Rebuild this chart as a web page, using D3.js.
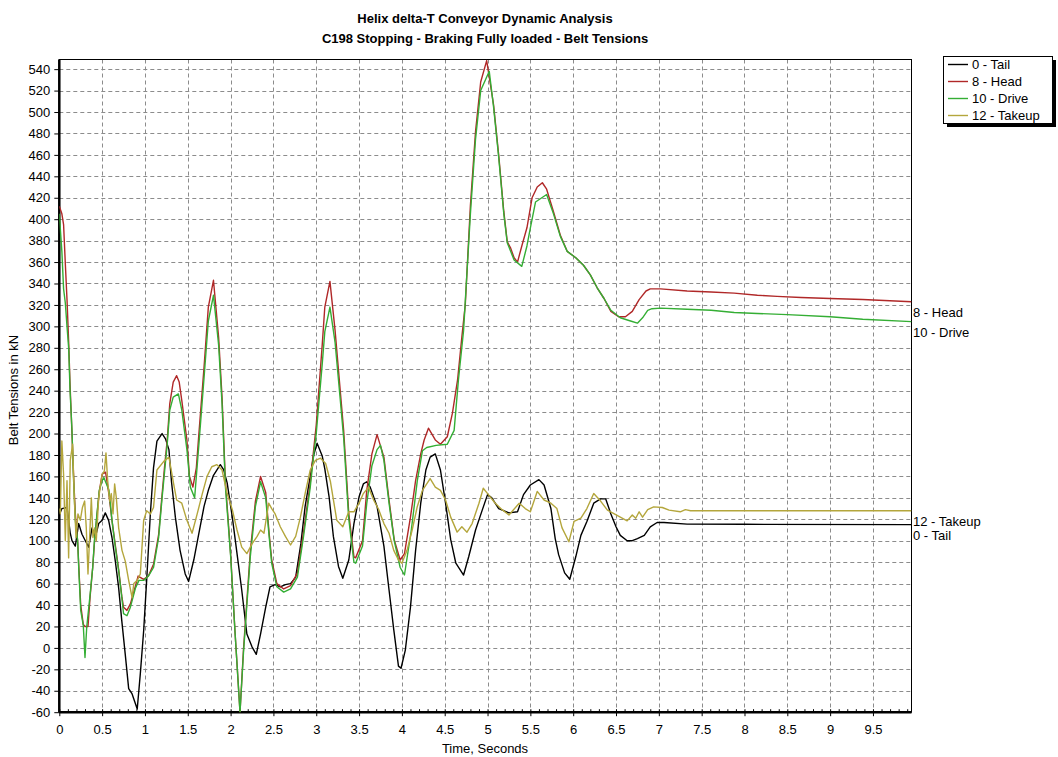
<!DOCTYPE html>
<html>
<head>
<meta charset="utf-8">
<script src="https://cdn.jsdelivr.net/npm/d3@7"></script>
<style>
  html, body { margin: 0; padding: 0; background: #fff; }
  svg { display: block; font-family: "Liberation Sans", Arial, sans-serif; }
</style>
</head>
<body>
<svg id="chart" width="1058" height="757"></svg>
<script>
// Belt tension histories (time in s, tension in kN) for each pulley location
const tail = [
  [0,124],[0.03,130],[0.09,131],[0.128,107],[0.148,100],[0.187,95],[0.226,116],[0.265,106],
  [0.304,100],[0.343,94],[0.382,112],[0.42,103],[0.46,116],[0.5,119],[0.537,126],[0.576,119],
  [0.615,103],[0.654,81],[0.693,56],[0.73,25],[0.77,-6],[0.81,-38],[0.85,-43],[0.91,-57],
  [0.946,-24],[0.985,16],[1.02,63],[1.063,125],[1.10,168],[1.14,193],[1.20,200],[1.24,195],
  [1.28,185],[1.31,155],[1.355,122],[1.41,91],[1.47,69],[1.51,62],[1.57,82],[1.63,107],
  [1.69,132],[1.74,147],[1.80,161],[1.88,171],[1.92,166],[1.96,154],[2.02,122],[2.08,85],
  [2.13,54],[2.19,13],[2.25,1],[2.30,-6],[2.35,13],[2.41,38],[2.46,57],[2.52,59],[2.58,57],
  [2.64,59],[2.70,60],[2.76,66],[2.82,97],[2.87,132],[2.93,160],[2.97,180],[3.01,191],
  [3.07,179],[3.10,167],[3.15,141],[3.20,104],[3.26,76],[3.31,65],[3.38,82],[3.44,116],
  [3.50,141],[3.55,153],[3.59,155],[3.63,150],[3.71,132],[3.79,95],[3.85,54],[3.905,17],
  [3.96,-17],[3.99,-19],[4.04,-2],[4.10,38],[4.16,91],[4.22,135],[4.28,166],[4.33,178],
  [4.39,181],[4.45,166],[4.51,135],[4.57,101],[4.63,79],[4.72,68],[4.78,85],[4.86,110],
  [4.94,129],[5.0,143],[5.05,140],[5.13,130],[5.25,126],[5.35,127],[5.42,143],[5.50,152],
  [5.60,157],[5.66,152],[5.74,130],[5.79,102],[5.83,87],[5.90,70],[5.96,64],[6.03,85],
  [6.09,105],[6.16,118],[6.24,135],[6.32,139],[6.38,139],[6.44,125],[6.50,113],[6.55,105],
  [6.63,100],[6.69,100],[6.75,102],[6.83,105],[6.90,113],[6.98,117],[7.06,117],[7.33,115.5],
  [8.0,115.3],[9.95,115]
];

const head = [
  [0,412],[0.03,405],[0.05,395],[0.07,359],[0.09,325],[0.11,284],[0.125,247],[0.148,200],
  [0.167,160],[0.187,125],[0.20,112],[0.214,100],[0.23,72],[0.25,40],[0.28,22],[0.30,20],
  [0.335,20],[0.36,48],[0.39,75],[0.41,98],[0.44,124],[0.467,146],[0.5,162],[0.54,164],
  [0.58,143],[0.615,119],[0.654,96],[0.693,73],[0.73,48],[0.75,38],[0.79,35],[0.83,41],
  [0.89,58],[0.92,67],[0.985,64],[1.04,67],[1.10,78],[1.16,106],[1.20,143],[1.23,170],
  [1.26,194],[1.29,228],[1.33,248],[1.37,254],[1.40,248],[1.43,231],[1.49,194],[1.52,160],
  [1.56,150],[1.60,168],[1.63,200],[1.69,262],[1.74,318],[1.80,343],[1.86,290],[1.90,234],
  [1.94,154],[2.0,88],[2.05,17],[2.11,-60],[2.15,-2],[2.23,90],[2.29,137],[2.35,160],
  [2.41,145],[2.45,107],[2.48,82],[2.54,60],[2.62,55],[2.70,58],[2.78,70],[2.85,107],
  [2.93,154],[2.97,185],[3.0,208],[3.07,283],[3.10,318],[3.16,342],[3.22,296],[3.28,240],
  [3.32,203],[3.38,125],[3.44,85],[3.46,84],[3.54,100],[3.59,147],[3.65,181],[3.71,199],
  [3.79,178],[3.85,138],[3.91,101],[3.98,82],[4.03,88],[4.10,122],[4.16,156],[4.22,181],
  [4.26,194],[4.31,205],[4.39,194],[4.45,190],[4.53,197],[4.59,219],[4.65,250],[4.70,290],
  [4.74,320],[4.80,413],[4.86,482],[4.92,528],[4.99,548],[5.07,507],[5.13,460],[5.19,407],
  [5.23,379],[5.27,373],[5.31,364],[5.35,360],[5.40,375],[5.46,392],[5.52,420],[5.58,430],
  [5.64,434],[5.69,428],[5.77,407],[5.85,385],[5.93,370],[6.03,364],[6.12,357],[6.20,348],
  [6.28,336],[6.36,326],[6.44,314],[6.53,309],[6.61,309],[6.69,314],[6.77,325],[6.85,333],
  [6.90,335],[7.02,335],[7.33,333],[7.61,332],[7.88,331],[8.15,329],[8.38,328],[8.66,327],
  [9.0,326],[9.38,325],[9.95,323]
];

const drive = [
  [0,405],[0.03,370],[0.05,335],[0.07,322],[0.09,300],[0.11,279],[0.125,241],[0.148,203],
  [0.167,156],[0.187,119],[0.214,100],[0.23,69],[0.25,35],[0.28,21],[0.30,-9],[0.32,19],
  [0.36,50],[0.39,75],[0.41,100],[0.44,125],[0.467,147],[0.5,156],[0.52,159],[0.58,147],
  [0.615,119],[0.654,94],[0.693,72],[0.73,47],[0.75,32],[0.79,30],[0.83,38],[0.89,56],
  [0.93,63],[0.985,63],[1.04,67],[1.10,75],[1.16,103],[1.20,140],[1.23,165],[1.26,190],
  [1.29,222],[1.33,234],[1.39,237],[1.43,222],[1.49,185],[1.53,150],[1.58,140],[1.63,190],
  [1.69,252],[1.74,305],[1.80,329],[1.86,283],[1.90,228],[1.94,150],[2.0,86],[2.05,17],
  [2.11,-60],[2.15,-5],[2.23,85],[2.29,132],[2.35,155],[2.41,140],[2.45,104],[2.48,79],
  [2.54,57],[2.62,52],[2.70,55],[2.78,66],[2.85,103],[2.93,150],[2.97,180],[3.0,200],
  [3.07,265],[3.10,295],[3.16,318],[3.22,285],[3.28,232],[3.32,196],[3.38,120],[3.44,80],
  [3.46,79],[3.54,95],[3.59,135],[3.65,170],[3.71,185],[3.75,189],[3.79,175],[3.85,135],
  [3.91,100],[3.98,75],[4.03,68],[4.11,110],[4.18,156],[4.24,184],[4.29,187],[4.40,189],
  [4.53,190],[4.61,203],[4.66,250],[4.72,296],[4.80,405],[4.86,475],[4.92,520],[5.02,538],
  [5.07,505],[5.13,458],[5.19,405],[5.23,378],[5.31,362],[5.40,356],[5.46,375],[5.50,392],
  [5.56,416],[5.69,423],[5.77,405],[5.85,384],[5.93,370],[6.03,364],[6.12,357],[6.20,348],
  [6.28,336],[6.36,326],[6.44,315],[6.55,308],[6.67,305],[6.75,303],[6.81,308],[6.87,315],
  [6.92,316.5],[7.02,317],[7.33,316],[7.61,315],[7.88,313],[8.15,312],[8.50,311],[9.0,309],
  [9.38,306.6],[9.95,304.4]
];

const takeup = [
  [0,130],[0.012,125],[0.03,193],[0.05,162],[0.07,100],[0.09,156],[0.109,84],[0.128,175],
  [0.155,190],[0.175,140],[0.195,103],[0.218,125],[0.245,119],[0.27,131],[0.296,137],
  [0.315,112],[0.335,69],[0.354,103],[0.374,140],[0.393,103],[0.413,112],[0.432,100],
  [0.46,140],[0.5,162],[0.526,165],[0.545,182],[0.565,156],[0.588,137],[0.607,144],
  [0.627,125],[0.646,153],[0.666,140],[0.693,112],[0.732,91],[0.77,81],[0.81,63],[0.85,47],
  [0.87,60],[0.91,63],[0.946,69],[0.985,119],[1.02,128],[1.063,125],[1.10,131],[1.14,166],
  [1.22,174],[1.28,178],[1.335,153],[1.37,138],[1.43,135],[1.49,119],[1.55,107],[1.61,125],
  [1.67,144],[1.725,160],[1.78,169],[1.84,171],[1.90,166],[1.96,144],[2.02,129],[2.075,110],
  [2.13,94],[2.19,88],[2.25,97],[2.31,104],[2.35,110],[2.39,107],[2.445,135],[2.48,130],
  [2.52,125],[2.58,113],[2.64,104],[2.70,96],[2.76,104],[2.815,122],[2.87,144],[2.93,166],
  [2.99,175],[3.05,177],[3.11,172],[3.166,155],[3.24,119],[3.31,113],[3.38,127],[3.44,127],
  [3.50,135],[3.55,144],[3.61,150],[3.67,138],[3.73,129],[3.79,116],[3.85,107],[3.905,91],
  [3.96,82],[4.0,79],[4.06,91],[4.12,110],[4.18,132],[4.24,147],[4.33,158],[4.39,150],
  [4.45,147],[4.51,138],[4.57,122],[4.645,108],[4.70,113],[4.76,108],[4.82,116],[4.90,135],
  [4.95,149],[5.01,143],[5.09,135],[5.17,129],[5.25,124],[5.37,135],[5.44,130],[5.50,127],
  [5.58,146],[5.66,138],[5.74,135],[5.81,130],[5.87,112],[5.95,99],[6.01,118],[6.09,121],
  [6.16,130],[6.24,144],[6.32,137],[6.40,128.5],[6.48,125],[6.55,122],[6.63,118.5],
  [6.69,124],[6.73,121],[6.77,127],[6.81,122],[6.87,129],[6.94,131.6],[7.04,131],
  [7.12,128.5],[7.25,127],[7.31,129],[7.37,128],[8.0,128],[9.95,128]
];

const seriesNames = ["0 - Tail", "8 - Head", "10 - Drive", "12 - Takeup"];
const seriesData = [tail, head, drive, takeup];
const seriesColors = ["#000000", "#B02828", "#34AE34", "#B4A63C"];
const xTickValues = d3.range(0, 9.51, 0.5);
const yTickValues = d3.range(-60, 541, 20);

const titleLines = ["Helix delta-T Conveyor Dynamic Analysis",
                    "C198 Stopping - Braking Fully loaded - Belt Tensions"];
const xTitle = "Time, Seconds";
const yTitle = "Belt Tensions in kN";

const svg = d3.select("#chart");
const plot = { left: 59.3, right: 911.5, top: 59.5, bottom: 712.2 };

const x = d3.scaleLinear().domain([0, 9.95]).range([plot.left, plot.right]);
const y = d3.scaleLinear().domain([-60, 549]).range([plot.bottom, plot.top]);

const fmt = d => (Math.round(d * 10) / 10).toString();

// titles
svg.selectAll("text.title").data(titleLines).join("text")
  .attr("class", "title")
  .attr("x", 485).attr("y", (d, i) => 23 + i * 20)
  .attr("text-anchor", "middle")
  .attr("font-size", 13).attr("font-weight", "bold")
  .text(d => d);

// dashed grid
const grid = svg.append("g").attr("stroke", "#8c8c8c").attr("stroke-dasharray", "4,3").attr("stroke-width", 1);
grid.selectAll("line.gx").data(xTickValues.filter(d => d > 0)).join("line")
  .attr("x1", d => Math.round(x(d)) + 0.5).attr("x2", d => Math.round(x(d)) + 0.5)
  .attr("y1", plot.top).attr("y2", plot.bottom);
grid.selectAll("line.gy").data(yTickValues.filter(d => d > -60)).join("line")
  .attr("y1", d => Math.round(y(d)) + 0.5).attr("y2", d => Math.round(y(d)) + 0.5)
  .attr("x1", plot.left).attr("x2", plot.right);

// frame
svg.append("rect")
  .attr("x", plot.left).attr("y", plot.top)
  .attr("width", plot.right - plot.left).attr("height", plot.bottom - plot.top)
  .attr("fill", "none").attr("stroke", "#000").attr("stroke-width", 1);

// axes
const xAxis = d3.axisBottom(x).tickValues(xTickValues).tickFormat(fmt).tickSize(4).tickPadding(9);
const xMinor = d3.axisBottom(x).tickValues(d3.range(0, 9.95, 0.1)).tickFormat("").tickSize(-3);
const yAxis = d3.axisLeft(y).tickValues(yTickValues).tickFormat(fmt).tickSize(5).tickPadding(4);

const gx = svg.append("g").attr("transform", `translate(0,${plot.bottom})`).call(xAxis);
svg.append("g").attr("transform", `translate(0,${plot.bottom})`).call(xMinor)
  .call(g => g.select(".domain").remove());
const gy = svg.append("g").attr("transform", `translate(${plot.left},0)`).call(yAxis);

[gx, gy].forEach(g => {
  g.select(".domain").attr("stroke", "#000").attr("stroke-width", 2.5);
  g.selectAll("text").attr("font-size", 13).attr("fill", "#000")
    .attr("font-family", "'Liberation Sans', Arial, sans-serif");
});
gx.select(".domain").attr("d", `M${plot.left},0H${plot.right}`);
gy.select(".domain").attr("d", `M0,${plot.top}V${plot.bottom}`);

// axis titles
svg.append("text").attr("x", 485).attr("y", 753).attr("text-anchor", "middle")
  .attr("font-size", 13).text(xTitle);
svg.append("text").attr("transform", "translate(18,390) rotate(-90)")
  .attr("text-anchor", "middle").attr("font-size", 13).text(yTitle);

// series lines
svg.append("clipPath").attr("id", "plotClip").append("rect")
  .attr("x", plot.left).attr("y", plot.top - 1)
  .attr("width", plot.right - plot.left).attr("height", plot.bottom - plot.top + 1);

const line = d3.line().x(d => x(d[0])).y(d => y(d[1]));
svg.append("g").attr("clip-path", "url(#plotClip)")
  .selectAll("path").data(seriesData).join("path")
  .attr("d", line)
  .attr("fill", "none")
  .attr("stroke", (d, i) => seriesColors[i])
  .attr("stroke-width", 1.4)
  .attr("stroke-linejoin", "round");

// end-of-line labels
svg.selectAll("text.endlabel").data(seriesData).join("text")
  .attr("class", "endlabel")
  .attr("x", plot.right + 1.5)
  .attr("y", d => y(d[d.length - 1][1]) + 15)
  .attr("font-size", 13)
  .text((d, i) => seriesNames[i]);

// legend
const lg = svg.append("g").attr("transform", "translate(943,56)");
lg.append("rect").attr("x", 4).attr("y", 4).attr("width", 109).attr("height", 67).attr("fill", "#000");
lg.append("rect").attr("x", 0.5).attr("y", 0.5).attr("width", 109).attr("height", 67)
  .attr("fill", "#fff").attr("stroke", "#000");
const items = lg.selectAll("g.item").data(seriesNames).join("g")
  .attr("class", "item")
  .attr("transform", (d, i) => `translate(0,${8.5 + i * 17})`);
items.append("line").attr("x1", 5).attr("x2", 25).attr("y1", 0).attr("y2", 0)
  .attr("stroke", (d, i) => seriesColors[i]).attr("stroke-width", 1.4);
items.append("text").attr("x", 29).attr("y", 4.5).attr("font-size", 13).text(d => d);
</script>
</body>
</html>
